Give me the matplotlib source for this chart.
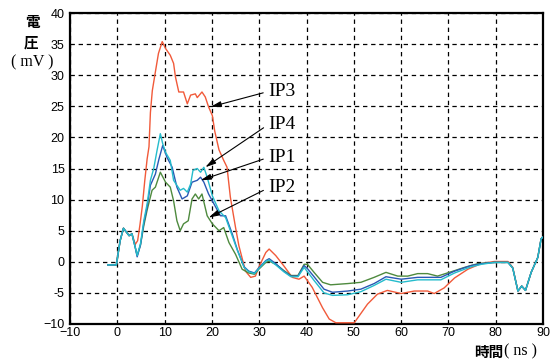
import matplotlib
matplotlib.use("Agg")
import matplotlib.pyplot as plt

# ---- data ----
x_ip3 = [-2, -0.2, 0.6, 1.3, 2.0, 2.5, 3.1, 3.8, 4.3, 4.8, 5.3, 5.8, 6.3, 6.7, 7.0, 7.4, 8.0, 8.7, 9.5, 10.2,
         11.2, 11.9, 12.3, 13.0, 14.0, 14.8, 15.5, 16.5, 16.9, 17.9, 18.6, 19.3, 20.1, 20.6, 21.5, 22.5, 23.2, 23.9, 25.0, 25.7,
         27.1, 28.2, 29.2, 29.9, 31.4, 32.1, 33.5, 35.2, 37.0, 38.4, 39.5, 41.2, 43.4, 44.8, 46.2, 48.0, 50.1, 52.9, 55.0, 57.1,
         60.0, 62.8, 65.6, 67.0, 69.1, 71.3, 74.1, 76.9, 79.7, 82.6, 83.6, 84.7, 85.5, 86.3, 87.5, 88.9, 89.6, 90.3]
y_ip3 = [-0.5, -0.5, 3.4, 5.4, 4.7, 4.2, 4.5, 2.8, 3.4, 6.0, 9.0, 13.0, 16.5, 18.5, 24.0, 27.5, 30.3, 33.5, 35.4, 34.3,
         33.2, 31.9, 29.7, 27.3, 27.3, 25.4, 26.8, 27.0, 26.4, 27.3, 26.5, 24.9, 23.5, 21.0, 18.0, 16.3, 15.2, 10.4, 5.5, 2.6,
         -1.5, -2.5, -2.3, -0.9, 1.5, 2.05, 1.0, -0.65, -2.5, -2.8, -2.3, -4.1, -7.4, -9.2, -9.8, -9.8, -9.8, -6.8, -5.2, -4.6,
         -5.1, -4.7, -4.7, -5.1, -4.2, -2.6, -1.2, -0.3, 0.05, 0.05, -0.9, -4.7, -3.9, -4.6, -1.7, 0.7, 3.7, 4.2]

x_ip2 = [-2, -0.2, 0.6, 1.3, 2.0, 2.5, 3.1, 3.8, 4.2, 4.9, 5.6, 6.3, 7.35, 8.05, 8.75, 9.1, 10.2, 11.2, 11.9, 12.6,
         13.3, 14.0, 15.0, 15.8, 16.5, 17.2, 17.9, 19.0, 20.1, 21.5, 22.5, 23.6, 25.0, 26.4, 27.8, 29.0, 29.9, 31.4, 32.1, 33.5,
         35.2, 36.7, 38.2, 39.5, 40.2, 41.6, 43.4, 45.1, 48.7, 51.5, 54.3, 56.8, 59.3, 61.4, 63.5, 65.6, 67.7, 70.6, 73.4, 76.2,
         79.7, 82.6, 83.6, 84.7, 85.5, 86.3, 87.5, 88.9, 89.6, 90.3]
y_ip2 = [-0.5, -0.5, 3.4, 5.4, 4.7, 4.2, 4.5, 2.3, 1.0, 2.7, 5.8, 8.3, 11.5, 12.0, 13.6, 14.4, 12.8, 12.0, 9.8, 6.6,
         5.0, 6.1, 6.6, 10.1, 10.9, 10.1, 10.9, 7.4, 6.1, 5.0, 5.5, 3.1, 1.2, -1.2, -1.8, -2.0, -1.2, -0.1, 0.1, -0.4,
         -1.4, -2.2, -2.2, -0.4, -0.4, -1.7, -3.3, -3.7, -3.5, -3.3, -2.5, -1.7, -2.3, -2.3, -1.9, -1.9, -2.3, -1.6, -0.9, -0.3,
         -0.1, -0.1, -1.0, -4.7, -3.9, -4.6, -1.7, 0.7, 3.7, 4.2]

x_ip1 = [-2, -0.2, 0.6, 1.3, 2.0, 2.5, 3.1, 3.8, 4.2, 4.9, 5.6, 6.3, 7.0, 8.05, 8.8, 9.6, 10.5, 11.6, 12.6, 13.7,
         14.8, 15.8, 16.9, 17.6, 18.3, 19.3, 20.8, 21.8, 22.9, 24.3, 25.4, 26.8, 27.8, 29.0, 29.9, 31.4, 32.1, 33.5, 35.2, 36.7,
         38.2, 39.5, 40.2, 41.6, 43.7, 45.5, 48.7, 51.5, 54.3, 56.8, 60.0, 63.5, 65.6, 68.4, 71.3, 74.8, 77.0, 79.7, 82.6, 83.6,
         84.7, 85.5, 86.3, 87.5, 88.9, 89.6, 90.3]
y_ip1 = [-0.5, -0.5, 3.4, 5.4, 4.7, 4.2, 4.5, 2.3, 0.8, 2.7, 6.2, 8.8, 12.3, 14.1, 16.5, 18.7, 16.8, 15.2, 12.0, 10.1,
         10.6, 12.8, 13.1, 13.6, 12.8, 10.9, 8.8, 7.4, 7.4, 4.5, 1.9, -0.8, -1.5, -1.8, -1.0, 0.2, 0.5, -0.3, -1.5, -2.3,
         -2.3, -0.6, -1.1, -2.4, -4.4, -4.9, -4.7, -4.4, -3.5, -2.4, -2.8, -2.5, -2.5, -2.5, -1.5, -0.6, -0.3, -0.1, -0.1, -1.0,
         -4.7, -3.9, -4.6, -1.7, 0.7, 3.7, 4.2]

x_ip4 = [-2, -0.2, 0.6, 1.3, 2.0, 2.5, 3.1, 3.8, 4.2, 4.9, 5.6, 6.3, 7.0, 7.7, 8.4, 9.1, 9.6, 10.2, 11.2, 11.9,
         13.3, 14.0, 14.8, 15.5, 16.0, 16.9, 17.6, 18.3, 19.0, 20.1, 21.5, 22.9, 23.9, 25.4, 26.8, 27.8, 29.0, 29.9, 31.4, 32.1,
         33.5, 35.2, 36.7, 38.2, 39.5, 40.2, 41.6, 43.7, 45.5, 48.7, 51.5, 54.3, 56.8, 60.0, 63.5, 65.6, 68.4, 71.3, 74.8, 77.0,
         79.7, 82.6, 83.6, 84.7, 85.5, 86.3, 87.5, 88.9, 89.6, 90.3]
y_ip4 = [-0.5, -0.5, 3.4, 5.4, 4.7, 4.2, 4.5, 2.3, 1.0, 2.9, 6.6, 9.3, 13.1, 15.0, 17.9, 20.6, 19.0, 17.6, 16.3, 13.1,
         11.5, 11.8, 11.2, 12.5, 14.7, 15.0, 14.4, 15.2, 13.6, 10.6, 8.2, 7.1, 5.0, 1.8, -0.9, -1.6, -1.9, -1.1, 0.1, 0.3,
         -0.5, -1.6, -2.4, -2.4, -0.9, -1.6, -3.0, -5.0, -5.4, -5.3, -4.8, -3.8, -2.8, -3.3, -2.9, -2.9, -2.9, -1.8, -0.8, -0.4,
         -0.1, -0.1, -1.0, -4.7, -3.9, -4.6, -1.7, 0.7, 3.7, 4.2]

series_names = ["IP3", "IP2", "IP1", "IP4"]
x_ticks = [-10, 0, 10, 20, 30, 40, 50, 60, 70, 80, 90]
y_ticks = [-10, -5, 0, 5, 10, 15, 20, 25, 30, 35, 40]

# annotation label positions (text xy, arrow tip xy) in data units
ann_labels = ["IP3", "IP4", "IP1", "IP2"]
ann_text_xy = [(32.0, 27.4), (32.0, 22.1), (32.0, 16.8), (32.0, 11.9)]
ann_tip_xy = [(19.7, 24.9), (18.6, 15.2), (17.6, 13.1), (19.3, 7.1)]

colors = {"IP3": "#f15a3a", "IP2": "#4e8a3e", "IP1": "#2a58b4", "IP4": "#25bccc"}

fig = plt.figure(figsize=(5.5, 3.6), dpi=100)
ax = fig.add_axes([70 / 550, 1 - 324 / 360, (543 - 70) / 550, (324 - 13) / 360])

data = {"IP3": (x_ip3, y_ip3), "IP2": (x_ip2, y_ip2), "IP1": (x_ip1, y_ip1), "IP4": (x_ip4, y_ip4)}
for name in series_names:
    xs, ys = data[name]
    ax.plot(xs, ys, color=colors[name], lw=1.0, zorder=3)

ax.set_xlim(-10, 90)
ax.set_ylim(-10, 40)
ax.set_xticks(x_ticks)
ax.set_yticks(y_ticks)
ax.set_xticklabels(["\u221210" if t == -10 else str(t) for t in x_ticks], fontsize=9,
                   family=["Liberation Sans"])
ax.set_yticklabels(["\u221210" if t == -10 else str(t) for t in y_ticks], fontsize=9,
                   family=["Liberation Sans"])
ax.tick_params(axis="both", length=0)
ax.tick_params(axis="x", pad=2)
ax.tick_params(axis="y", pad=4)
ax.grid(True, color="black", linestyle=(0, (3.5, 3)), linewidth=0.9)
for s in ax.spines.values():
    s.set_linewidth(1.6)
    s.set_color("black")

for lab, txy, tip in zip(ann_labels, ann_text_xy, ann_tip_xy):
    ax.annotate(lab, xy=tip, xytext=txy, fontsize=14, family=["Liberation Serif"],
                va="center", ha="left", zorder=5,
                arrowprops=dict(arrowstyle="-|>,head_length=0.45,head_width=0.12",
                                color="black", lw=0.8, shrinkA=2, shrinkB=0,
                                relpos=(0, 0.5)))

# y label (vertical stacked)
fig.text(32 / 550, 1 - 21.5 / 360, "電", fontsize=10.5, fontweight="bold",
         family=["Noto Sans CJK JP"], ha="center", va="center")
fig.text(31 / 550, 1 - 42.5 / 360, "圧", fontsize=10.5, fontweight="bold",
         family=["Noto Sans CJK JP"], ha="center", va="center")
fig.text(32 / 550, 1 - 62 / 360, "( mV )", fontsize=11.5,
         family=["Liberation Serif"], ha="center", va="center")

# x label
fig.text(503 / 550, 1 - 352 / 360, "時間", fontsize=10.5, fontweight="bold",
         family=["Noto Sans CJK JP"], ha="right", va="center")
fig.text(504 / 550, 1 - 351 / 360, "( ns )", fontsize=11.5,
         family=["Liberation Serif"], ha="left", va="center")

fig.savefig("out.png", dpi=100)
